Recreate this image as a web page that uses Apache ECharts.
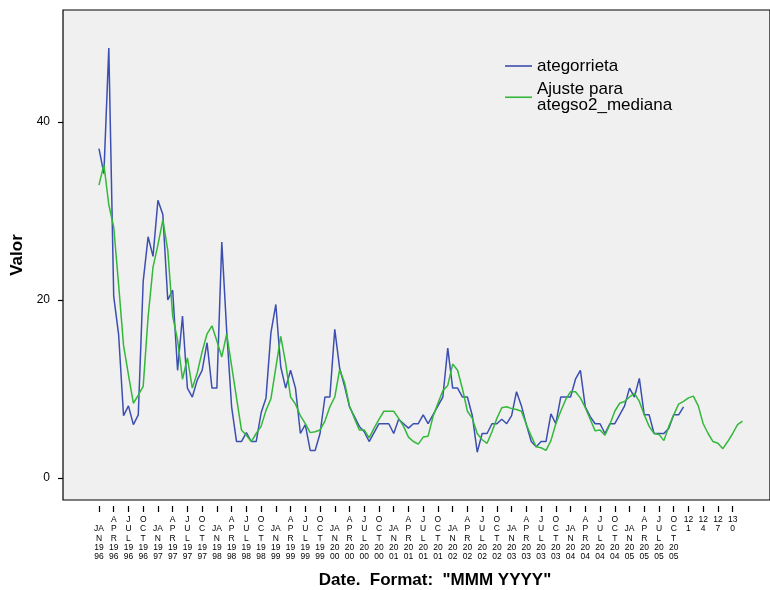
<!DOCTYPE html>
<html><head><meta charset="utf-8">
<script src="https://cdn.jsdelivr.net/npm/echarts@6/dist/echarts.min.js"></script>
<style>html,body{margin:0;padding:0;background:#fff}#c{width:770px;height:590px}</style>
</head><body><div id="c"></div>
<script>
// Observed monthly series (month 1 = JAN 1996)
const ategorrieta = [
  37.0, 34.2, 48.3, 20.4, 16.1, 7.0, 8.1, 6.0, 7.1, 22.1, 27.1, 24.9,
  31.2, 29.6, 20.0, 21.1, 12.1, 18.2, 10.1, 9.1, 11.0, 12.1, 15.2, 10.1,
  10.1, 26.5, 16.5, 8.0, 4.1, 4.1, 5.1, 4.1, 4.1, 7.3, 9.0, 16.3,
  19.5, 12.5, 10.1, 12.1, 10.1, 5.0, 6.0, 3.1, 3.1, 5.0, 9.1, 9.1,
  16.7, 12.3, 10.3, 8.0, 6.9, 5.8, 5.2, 4.1, 5.1, 6.1, 6.1, 6.1,
  5.0, 6.6, 6.1, 5.6, 6.1, 6.1, 7.1, 6.1, 7.1, 8.1, 9.1, 14.6,
  10.1, 10.1, 9.1, 9.1, 7.0, 2.9, 5.0, 5.0, 6.1, 6.1, 6.6, 6.1,
  7.0, 9.7, 8.1, 6.0, 4.1, 3.5, 4.1, 4.1, 7.2, 6.1, 9.1, 9.1,
  9.1, 11.1, 12.1, 8.0, 6.9, 6.1, 6.1, 5.0, 6.1, 6.1, 7.1, 8.1,
  10.1, 9.1, 11.2, 7.1, 7.1, 5.0, 5.0, 5.0, 5.6, 7.1, 7.1, 8.0
];
// Fitted series (extends 12 months beyond observed data)
const ajusteMediana = [
  32.9, 35.2, 30.7, 28.2, 21.7, 14.9, 11.6, 8.4, 9.3, 10.3, 18.1, 23.7,
  26.2, 29.0, 25.6, 18.2, 15.5, 11.1, 13.5, 10.1, 11.8, 14.2, 16.2, 17.1,
  15.4, 13.6, 16.2, 12.6, 9.0, 5.4, 4.8, 4.1, 5.0, 5.8, 7.6, 8.9,
  12.4, 15.9, 12.9, 9.1, 8.3, 7.0, 6.1, 5.1, 5.2, 5.4, 6.4, 8.0,
  9.1, 12.2, 10.7, 8.1, 6.7, 5.4, 5.4, 4.5, 5.6, 6.6, 7.5, 7.5,
  7.5, 6.7, 5.8, 4.6, 4.1, 3.8, 4.6, 4.7, 6.9, 8.4, 9.8, 10.4,
  12.8, 12.1, 10.0, 7.5, 6.7, 5.0, 4.3, 3.9, 5.2, 6.7, 7.9, 8.0,
  7.8, 7.7, 7.5, 6.0, 4.7, 3.5, 3.4, 3.1, 4.2, 6.1, 7.5, 8.8,
  9.7, 9.7, 9.0, 7.9, 6.6, 5.3, 5.4, 4.8, 6.0, 7.5, 8.4, 8.6,
  9.1, 9.5, 8.6, 7.1, 5.8, 5.0, 4.9, 4.2, 5.8, 7.1, 8.3, 8.6,
  9.0, 9.2, 8.1, 6.1, 5.0, 4.1, 3.9, 3.3, 4.1, 5.0, 6.0, 6.4
];
const tickPositions = [1,4,7,10,13,16,19,22,25,28,31,34,37,40,43,46,49,52,55,58,61,64,67,70,73,76,79,82,85,88,91,94,97,100,103,106,109,112,115,118,121,124,127,130];
const tickLabels = [
  'JAN 1996','APR 1996','JUL 1996','OCT 1996','JAN 1997','APR 1997','JUL 1997','OCT 1997',
  'JAN 1998','APR 1998','JUL 1998','OCT 1998','JAN 1999','APR 1999','JUL 1999','OCT 1999',
  'JAN 2000','APR 2000','JUL 2000','OCT 2000','JAN 2001','APR 2001','JUL 2001','OCT 2001',
  'JAN 2002','APR 2002','JUL 2002','OCT 2002','JAN 2003','APR 2003','JUL 2003','OCT 2003',
  'JAN 2004','APR 2004','JUL 2004','OCT 2004','JAN 2005','APR 2005','JUL 2005','OCT 2005',
  '121','124','127','130'
];
const yTicks = [0, 20, 40];
const seriesNames = ['ategorrieta', 'Ajuste para\nategso2_mediana'];

const FONT = "'Liberation Sans', Arial, Helvetica, sans-serif";

function stackLabel(t) {
  // SPSS wraps each label into a narrow column
  const parts = t.split(' ');
  if (parts.length === 1) return [parts[0].slice(0, 2), parts[0].slice(2)].join('\n');
  const m = parts[0], y = parts[1];
  const mLines = m === 'JAN' ? ['', 'JA', 'N'] : m.split('');
  return mLines.concat([y.slice(0, 2), y.slice(2)]).join('\n');
}

const chart = echarts.init(document.getElementById('c'), null, {renderer: 'canvas'});
chart.setOption({
  animation: false,
  backgroundColor: '#ffffff',
  grid: {
    left: 63, top: 10, right: -1, bottom: 90,
    show: true, backgroundColor: '#f0f0f0', borderColor: '#000', borderWidth: 1.2
  },
  xAxis: {
    type: 'value',
    min: -6.325, max: 137.6,
    offset: 6,
    splitLine: {show: false},
    axisLine: {show: false, onZero: false},
    axisTick: {show: true, length: 6, lineStyle: {color: '#000', width: 1.2}, customValues: tickPositions},
    axisLabel: {
      customValues: tickPositions,
      margin: 9,
      fontFamily: FONT, fontSize: 8.5, lineHeight: 9.3, color: '#000',
      verticalAlign: 'top', align: 'center',
      formatter: function (v) {
        const i = tickPositions.indexOf(Math.round(v));
        return i >= 0 ? stackLabel(tickLabels[i]) : '';
      }
    }
  },
  yAxis: {
    type: 'value',
    min: -2.47, max: 52.58,
    splitLine: {show: false},
    axisLine: {show: false, onZero: false},
    axisTick: {show: true, length: 5, lineStyle: {color: '#000', width: 1.2}, customValues: yTicks},
    axisLabel: {customValues: yTicks, margin: 13, fontFamily: FONT, fontSize: 12, color: '#000'}
  },
  legend: {
    orient: 'vertical', left: 505, top: 57.5, padding: 0, itemGap: 6,
    itemWidth: 27, itemHeight: 1.6, icon: 'rect',
    textStyle: {fontFamily: FONT, fontSize: 17, lineHeight: 16.5, color: '#000'},
    data: seriesNames
  },
  series: [
    {
      name: seriesNames[0], type: 'line', symbol: 'none', showSymbol: false,
      lineStyle: {color: '#3c4fb0', width: 1.5}, itemStyle: {color: '#3c4fb0'},
      data: ategorrieta.map((v, i) => [i + 1, v])
    },
    {
      name: seriesNames[1], type: 'line', symbol: 'none', showSymbol: false,
      lineStyle: {color: '#33b83a', width: 1.5}, itemStyle: {color: '#33b83a'},
      data: ajusteMediana.map((v, i) => [i + 1, v])
    }
  ],
  graphic: [
    {type: 'text', x: 17, y: 255, rotation: Math.PI / 2,
     style: {text: 'Valor', font: 'bold 17px ' + FONT, fill: '#000', textAlign: 'center', textVerticalAlign: 'middle'}},
    {type: 'text', x: 435, y: 580,
     style: {text: 'Date.  Format:  "MMM YYYY"', font: 'bold 17px ' + FONT, fill: '#000', textAlign: 'center', textVerticalAlign: 'middle'}}
  ]
});
</script>
</body></html>
